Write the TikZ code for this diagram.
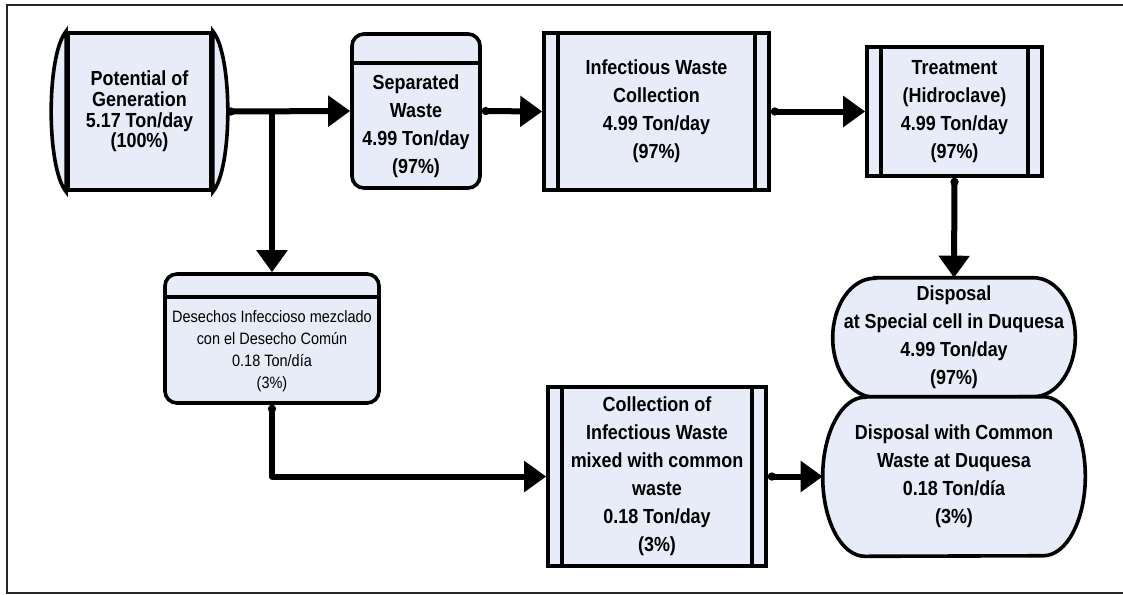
\documentclass[tikz,border=0pt]{standalone}
\usepackage{fontspec}
\setmainfont{Liberation Sans}[FakeStretch=0.88]
\usetikzlibrary{arrows.meta,backgrounds}
\definecolor{wfill}{RGB}{231,236,248}
\newcommand{\tpd}       {Ton/day}
\newcommand{\tpdia}     {Ton/día}
\newcommand{\hdtxt}[4]  {\parbox[c][#1][c]{#2}{\centering\vspace*{#3}#4}}

\begin{document}
\begin{tikzpicture}[x=0.025cm,y=-0.025cm,
  procline/.style={line width=0.09cm},
  procbox/.style={procline,draw,fill=wfill,inner sep=0pt,align=center},
  hdbox/.style={procline,draw,fill=wfill,inner sep=0pt,rounded corners=0.3cm},
  dispbox/.style={inner sep=0pt,align=center},
  btxt/.style={font=\fontsize{14.5}{#1}\selectfont\bfseries},
  btxt/.default=19.9,
  rtxt/.style={font=\fontsize{11.7}{15.6}\selectfont},
  flow/.style={line width=0.15cm,line join=round,-{Triangle[length=0.55cm,width=0.75cm]}},
  dotflow/.style={flow,{Circle[length=0.2cm]}-{Triangle[length=0.55cm,width=0.75cm]}},
  frame/.style={line width=0.05cm,black!85}]
   \useasboundingbox (0,0) rectangle (1123,594);
   \draw[frame] (1130,5) -- (7,5) -- (7,593) -- (1130,593);
   \begin{scope}
    \node[procbox,btxt=14.6,minimum width=3.575cm,minimum height=3.925cm] (gen) at (139.5,111.5)
      {Potential of\\Generation\\5.17 \tpd\\(100\%)};
    \node[hdbox,btxt,minimum width=3.2cm,minimum height=3.85cm] (sep) at (416,111)
      {\hdtxt{3.85cm}{3.1cm}{0.775cm}{Separated\\Waste\\4.99 \tpd\\(97\%)}};
    \node[procbox,btxt,minimum width=5.625cm,minimum height=3.925cm] (col) at (656.5,111.5)
      {Infectious Waste\\Collection\\4.99 \tpd\\(97\%)};
    \node[procbox,btxt,minimum width=4.375cm,minimum height=3.225cm] (trt) at (954.5,111.5)
      {Treatment\\(Hidroclave)\\4.99 \tpd\\(97\%)};
    \draw[procline] ([yshift=-0.775cm]sep.north west) -- ([yshift=-0.775cm]sep.north east);
    \draw[procline] ([xshift=0.4cm]col.north west) -- ([xshift=0.4cm]col.south west);
    \draw[procline] ([xshift=-0.4cm]col.north east) -- ([xshift=-0.4cm]col.south east);
    \draw[procline] ([xshift=0.4cm]trt.north west) -- ([xshift=0.4cm]trt.south west);
    \draw[procline] ([xshift=-0.4cm]trt.north east) -- ([xshift=-0.4cm]trt.south east);
    \draw[procline,fill=wfill] (gen.north west) .. controls +(-20,24) and +(-20,-24) .. (gen.south west) -- cycle;
    \draw[procline,fill=wfill] (gen.north east) .. controls +(20,24) and +(20,-24) .. (gen.south east) -- cycle;
   \end{scope}
   \begin{scope}
    \node[hdbox,rtxt,minimum width=5.35cm,minimum height=3.225cm] (mix) at (272,338.5)
      {\hdtxt{3.225cm}{5.25cm}{0.625cm}{Desechos Infeccioso mezclado\\con el Desecho Común\\0.18 \tpdia\\(3\%)}};
    \node[procbox,btxt,minimum width=5.45cm,minimum height=4.475cm] (cmx) at (657,476.5)
      {Collection of\\Infectious Waste\\mixed with common\\waste\\0.18 \tpd\\(3\%)};
    \node[dispbox,btxt,minimum width=6.05cm,minimum height=2.975cm] (dsp) at (954,337.5)
      {Disposal\\at Special cell in Duquesa\\4.99 \tpd\\(97\%)};
    \node[dispbox,btxt,minimum width=6.55cm,minimum height=3.975cm] (dcm) at (954,476.5)
      {Disposal with Common\\Waste at Duquesa\\0.18 \tpdia\\(3\%)};
    \draw[procline] ([yshift=-0.625cm]mix.north west) -- ([yshift=-0.625cm]mix.north east);
    \draw[procline] ([xshift=0.4cm]cmx.north west) -- ([xshift=0.4cm]cmx.south west);
    \draw[procline] ([xshift=-0.4cm]cmx.north east) -- ([xshift=-0.4cm]cmx.south east);
   \end{scope}
   \begin{scope}[on background layer]
    \draw[procline,fill=wfill] ([xshift=1.05cm]dsp.north west) -- ([xshift=-1.05cm]dsp.north east)
      arc[start angle=90,end angle=-90,x radius=1.05cm,y radius=1.4875cm]
      -- ([xshift=1.05cm]dsp.south west)
      arc[start angle=270,end angle=90,x radius=1.05cm,y radius=1.4875cm] -- cycle;
    \draw[procline,fill=wfill] ([xshift=1.05cm]dcm.north west) -- ([xshift=-1.05cm]dcm.north east)
      arc[start angle=90,end angle=-90,x radius=1.05cm,y radius=1.9875cm]
      -- ([xshift=1.05cm]dcm.south west)
      arc[start angle=270,end angle=90,x radius=1.05cm,y radius=1.9875cm] -- cycle;
   \end{scope}
   \coordinate (genr) at ([xshift=0.35cm]gen.east);
   \coordinate (split) at (gen.east -| mix.north);
   \draw[dotflow] (genr) -- (sep.west);
   \draw[flow] (split) -- (mix.north);
   \draw[dotflow] (sep.east) -- (col.west);
   \draw[dotflow] (col.east) -- (trt.west);
   \draw[dotflow] (trt.south) -- (dsp.north);
   \draw[dotflow] (mix.south) -- (mix.south |- cmx.west) -- (cmx.west);
   \draw[dotflow] (cmx.east) -- (dcm.west);
\end{tikzpicture}
\end{document}
